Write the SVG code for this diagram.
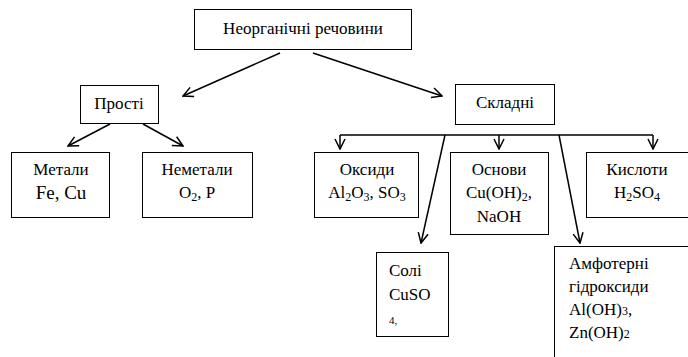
<svg xmlns="http://www.w3.org/2000/svg" width="688" height="357" viewBox="0 0 688 357" font-family="Liberation Serif, Times New Roman, Tinos, DejaVu Serif, serif" font-size="17">
<style>
.box{fill:#fff;stroke:#000;stroke-width:1}
.c{text-anchor:middle}
.ln{fill:none;stroke:#000;stroke-width:1.5}
</style>
<defs>
<marker id="ah" viewBox="0 0 12 12" refX="11" refY="6" markerWidth="12" markerHeight="12" markerUnits="userSpaceOnUse" orient="auto">
<path d="M1,1 L11,6 L1,11" fill="none" stroke="#000" stroke-width="1.5"/>
</marker>
</defs>
<rect width="688" height="357" fill="#fff"/>
<g id="connectors">
<line class="ln" x1="280" y1="53" x2="183" y2="96" marker-end="url(#ah)"/>
<line class="ln" x1="313" y1="53" x2="442" y2="96" marker-end="url(#ah)"/>
<line class="ln" x1="110" y1="124" x2="68" y2="146" marker-end="url(#ah)"/>
<line class="ln" x1="143" y1="124" x2="183" y2="146" marker-end="url(#ah)"/>
<line class="ln" x1="340" y1="135" x2="653" y2="135"/>
<line class="ln" x1="340" y1="135" x2="340" y2="149" marker-end="url(#ah)"/>
<line class="ln" x1="499" y1="135" x2="499" y2="149" marker-end="url(#ah)"/>
<line class="ln" x1="653" y1="135" x2="653" y2="149" marker-end="url(#ah)"/>
<line class="ln" x1="445" y1="135" x2="421" y2="243" marker-end="url(#ah)"/>
<line class="ln" x1="559" y1="135" x2="580" y2="243" marker-end="url(#ah)"/>
</g>
<g id="n-root">
<rect class="box" x="194.5" y="9.5" width="217" height="40"/>
<text class="c" x="303" y="34">Неорганічні речовини</text>
</g>
<g id="n-prosti">
<rect class="box" x="80.5" y="85.5" width="78" height="38"/>
<text class="c" x="119" y="109">Прості</text>
</g>
<g id="n-skladni">
<rect class="box" x="455.5" y="84.5" width="99" height="40"/>
<text class="c" x="505" y="108">Складні</text>
</g>
<g id="n-metaly">
<rect class="box" x="11.5" y="152.5" width="98" height="65"/>
<text class="c" x="61" y="175">Метали</text>
<text class="c" x="61" y="199" font-size="19">Fe, Cu</text>
</g>
<g id="n-nemetaly">
<rect class="box" x="142.5" y="152.5" width="110" height="65"/>
<text class="c" x="197" y="175">Неметали</text>
<text class="c" x="197" y="198">O<tspan font-size="12" dy="3">2</tspan><tspan dy="-3">, P</tspan></text>
</g>
<g id="n-oksydy">
<rect class="box" x="314.5" y="152.5" width="104" height="65"/>
<text class="c" x="367" y="175">Оксиди</text>
<text class="c" x="367" y="198">Al<tspan font-size="12" dy="3">2</tspan><tspan dy="-3">O</tspan><tspan font-size="12" dy="3">3</tspan><tspan dy="-3">, SO</tspan><tspan font-size="12" dy="3">3</tspan></text>
</g>
<g id="n-osnovy">
<rect class="box" x="450.5" y="152.5" width="98" height="82"/>
<text class="c" x="499" y="175">Основи</text>
<text class="c" x="499" y="198">Cu(OH)<tspan font-size="12" dy="3">2</tspan><tspan dy="-3">,</tspan></text>
<text class="c" x="499" y="222">NaOH</text>
</g>
<g id="n-kysloty">
<rect class="box" x="586.5" y="152.5" width="120" height="65"/>
<text class="c" x="637" y="175">Кислоти</text>
<text class="c" x="637" y="198">H<tspan font-size="12" dy="3">2</tspan><tspan dy="-3">SO</tspan><tspan font-size="12" dy="3">4</tspan></text>
</g>
<g id="n-soli">
<rect class="box" x="376.5" y="252.5" width="72" height="84"/>
<text x="389" y="276">Солі</text>
<text x="389" y="300">CuSO</text>
<text x="389" y="324" font-size="11">4,</text>
</g>
<g id="n-amfoterni">
<rect class="box" x="554.5" y="246.5" width="140" height="120"/>
<text x="569" y="269">Амфотерні</text>
<text x="569" y="292">гідроксиди</text>
<text x="569" y="315">Al(OH)<tspan font-size="12">3</tspan>,</text>
<text x="569" y="338">Zn(OH)<tspan font-size="12">2</tspan></text>
</g>
</svg>
